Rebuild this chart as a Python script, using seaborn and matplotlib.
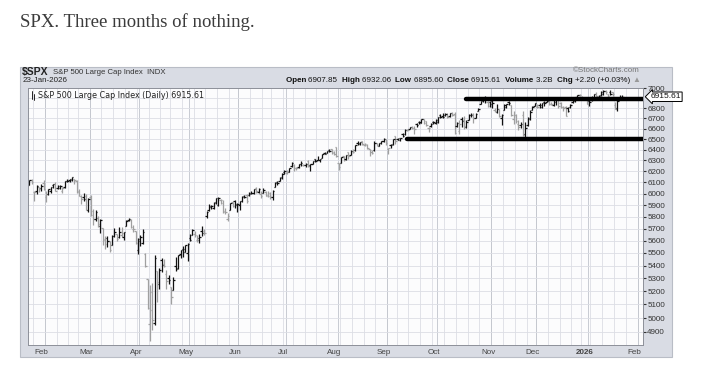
import numpy as np
import pandas as pd
import matplotlib
matplotlib.use("Agg")
import matplotlib.pyplot as plt
import matplotlib.patches as patches
import matplotlib.transforms as mtransforms
from matplotlib.ticker import FixedLocator, NullLocator
import seaborn as sns

# daily OHLC for $SPX, 23-Jan-2025 .. 23-Jan-2026
opens = [6076, 6121, 6014, 6026, 6058, 6051, 6096,
         5969, 5998, 6021, 6072, 6083, 6046, 6049, 6025, 6061, 6115, 6121, 6118, 6134, 6115, 6027, 5982, 5970, 5981, 5857,
         5969, 5812, 5782, 5787, 5726, 5706, 5604, 5624, 5594, 5563, 5635, 5655, 5632, 5646, 5630, 5719, 5775, 5771, 5696, 5679, 5527,
         5597, 5581, 5492, 5293, 4953, 5193, 4967, 5353, 5255, 5441, 5411, 5335, 5305, 5232, 5207, 5395, 5381, 5489, 5529, 5508, 5499,
         5626, 5645, 5656, 5606, 5621, 5680, 5676, 5806, 5854, 5891, 5871, 5929, 5903, 5945, 5915, 5842, 5781, 5855, 5926, 5939, 5903,
         5897, 5939, 5978, 5985, 5987, 6005, 6009, 6049, 6010, 5997, 6004, 6013, 5988, 6005, 5970, 6061, 6105, 6113, 6151, 6193,
         6187, 6193, 6246, 6259, 6232, 6240, 6263, 6256, 6255, 6296, 6253, 6265, 6311, 6304, 6306, 6326, 6368, 6370, 6397, 6409, 6377, 6428,
         6272, 6271, 6337, 6309, 6375, 6352, 6390, 6398, 6461, 6453, 6478, 6445, 6446, 6406, 6378, 6394, 6458, 6438, 6458, 6485, 6499,
         6409, 6445, 6457, 6528, 6500, 6507, 6546, 6546, 6590, 6597, 6620, 6605, 6641, 6661, 6658, 6695, 6671, 6606, 6621, 6661, 6657,
         6665, 6732, 6722, 6737, 6747, 6722, 6755, 6740, 6626, 6578, 6690, 6686, 6617, 6688, 6736, 6743, 6705, 6776, 6843, 6885, 6903, 6862, 6863,
         6872, 6786, 6766, 6790, 6701, 6787, 6813, 6867, 6834, 6690, 6733, 6645, 6631, 6730, 6548, 6636, 6697, 6781, 6823,
         6813, 6830, 6815, 6867, 6866, 6872, 6840, 6835, 6866, 6890, 6856, 6814, 6815, 6800, 6810, 6859, 6875, 6910, 6935, 6912, 6903, 6891,
         6875, 6886, 6903, 6947, 6915, 6930, 6940, 6975, 6940, 6960, 6960, 6835, 6800, 6900, 6908]
highs = [6119, 6128, 6027, 6074, 6062, 6087, 6121,
         6022, 6042, 6062, 6084, 6101, 6073, 6076, 6063, 6116, 6127, 6130, 6147, 6134, 6118, 6043, 5992, 6009, 5994, 5959,
         5987, 5866, 5861, 5803, 5783, 5706, 5636, 5642, 5598, 5646, 5704, 5659, 5716, 5711, 5671, 5775, 5786, 5784, 5732, 5680, 5623,
         5650, 5695, 5500, 5293, 5246, 5267, 5481, 5353, 5381, 5460, 5450, 5367, 5329, 5232, 5309, 5470, 5485, 5528, 5554, 5567, 5581,
         5658, 5700, 5684, 5649, 5653, 5720, 5693, 5847, 5906, 5903, 5925, 5958, 5968, 5954, 5940, 5878, 5829, 5922, 5931, 5944, 5922,
         5938, 5982, 5991, 5999, 6016, 6022, 6043, 6060, 6046, 6026, 6051, 6024, 6019, 6018, 6029, 6101, 6109, 6146, 6188, 6215,
         6210, 6227, 6284, 6263, 6243, 6265, 6290, 6270, 6272, 6303, 6265, 6298, 6315, 6336, 6316, 6360, 6381, 6390, 6402, 6410, 6390, 6428,
         6280, 6330, 6343, 6350, 6378, 6395, 6410, 6447, 6481, 6474, 6481, 6458, 6456, 6410, 6394, 6479, 6467, 6466, 6484, 6508, 6499,
         6417, 6455, 6503, 6533, 6511, 6513, 6555, 6592, 6601, 6616, 6627, 6624, 6656, 6671, 6695, 6698, 6673, 6619, 6650, 6674, 6689,
         6718, 6739, 6750, 6749, 6752, 6754, 6763, 6765, 6665, 6679, 6713, 6720, 6680, 6744, 6752, 6754, 6752, 6807, 6877, 6900, 6920, 6877, 6870,
         6887, 6804, 6839, 6794, 6739, 6842, 6847, 6870, 6834, 6775, 6747, 6683, 6663, 6771, 6662, 6716, 6780, 6824, 6849,
         6844, 6851, 6857, 6868, 6895, 6880, 6862, 6891, 6903, 6902, 6861, 6822, 6819, 6814, 6844, 6882, 6910, 6937, 6946, 6920, 6915, 6894,
         6894, 6920, 6946, 6966, 6935, 6978, 6986, 6985, 6945, 6980, 6967, 6860, 6890, 6935, 6932]
lows = [6075, 6088, 5932, 5994, 6012, 6021, 6031,
        5923, 5990, 6007, 6051, 6020, 6044, 6042, 6003, 6051, 6107, 6100, 6111, 6084, 6009, 5978, 5909, 5932, 5858, 5837,
        5810, 5733, 5762, 5711, 5667, 5566, 5529, 5546, 5505, 5563, 5631, 5598, 5622, 5632, 5603, 5719, 5764, 5703, 5671, 5572, 5489,
        5558, 5571, 5391, 5069, 4835, 4910, 4950, 5115, 5221, 5348, 5386, 5221, 5256, 5101, 5207, 5356, 5372, 5456, 5468, 5505, 5433,
        5597, 5645, 5629, 5592, 5582, 5640, 5646, 5786, 5845, 5869, 5866, 5907, 5896, 5912, 5830, 5825, 5768, 5855, 5886, 5872, 5843,
        5861, 5929, 5966, 5921, 5978, 5994, 6000, 6003, 6006, 5964, 6004, 5977, 5967, 5952, 5943, 6060, 6080, 6108, 6133, 6175,
        6178, 6189, 6241, 6201, 6215, 6228, 6251, 6245, 6237, 6243, 6201, 6264, 6285, 6303, 6282, 6318, 6360, 6364, 6375, 6360, 6347, 6332,
        6212, 6271, 6290, 6303, 6310, 6348, 6364, 6387, 6445, 6441, 6441, 6436, 6401, 6343, 6361, 6387, 6437, 6435, 6454, 6469, 6441,
        6360, 6416, 6445, 6454, 6488, 6483, 6522, 6539, 6575, 6596, 6598, 6551, 6619, 6644, 6656, 6643, 6630, 6570, 6612, 6646, 6648,
        6656, 6701, 6705, 6721, 6700, 6717, 6721, 6550, 6619, 6550, 6617, 6599, 6607, 6688, 6715, 6654, 6699, 6772, 6843, 6859, 6856, 6812, 6810,
        6800, 6767, 6753, 6713, 6631, 6787, 6805, 6832, 6724, 6646, 6650, 6585, 6604, 6528, 6521, 6630, 6679, 6780, 6823,
        6800, 6806, 6807, 6827, 6858, 6835, 6830, 6819, 6828, 6801, 6807, 6775, 6720, 6764, 6800, 6856, 6866, 6906, 6920, 6890, 6891, 6845,
        6825, 6870, 6895, 6910, 6890, 6925, 6935, 6940, 6890, 6930, 6925, 6790, 6775, 6890, 6896]
closes = [6119, 6101, 6012, 6068, 6039, 6071, 6041,
          5995, 6038, 6061, 6084, 6026, 6066, 6069, 6052, 6115, 6115, 6130, 6144, 6118, 6013, 5983, 5955, 5956, 5862, 5955,
          5850, 5778, 5843, 5739, 5770, 5615, 5572, 5599, 5522, 5639, 5675, 5615, 5675, 5663, 5668, 5768, 5777, 5712, 5693, 5581, 5612,
          5633, 5671, 5397, 5074, 5062, 4983, 5457, 5268, 5363, 5406, 5397, 5276, 5283, 5158, 5288, 5376, 5485, 5525, 5529, 5561, 5569,
          5604, 5687, 5650, 5607, 5631, 5664, 5660, 5844, 5887, 5893, 5917, 5958, 5964, 5940, 5845, 5842, 5803, 5922, 5889, 5912, 5912,
          5936, 5970, 5971, 5939, 6000, 6006, 6039, 6022, 6045, 5977, 6033, 5983, 5981, 5968, 6025, 6092, 6092, 6141, 6173, 6205,
          6198, 6227, 6279, 6230, 6226, 6263, 6280, 6260, 6269, 6244, 6264, 6297, 6297, 6306, 6310, 6359, 6363, 6389, 6390, 6371, 6363, 6339,
          6238, 6330, 6299, 6345, 6340, 6389, 6373, 6446, 6467, 6469, 6450, 6449, 6411, 6396, 6370, 6467, 6439, 6466, 6481, 6502, 6460,
          6416, 6448, 6502, 6482, 6495, 6513, 6532, 6587, 6584, 6615, 6607, 6600, 6632, 6664, 6694, 6657, 6638, 6605, 6644, 6661, 6688,
          6711, 6715, 6716, 6740, 6715, 6754, 6735, 6553, 6655, 6644, 6671, 6629, 6664, 6735, 6735, 6699, 6738, 6792, 6875, 6891, 6891, 6822, 6840,
          6852, 6772, 6796, 6720, 6729, 6832, 6847, 6851, 6737, 6734, 6672, 6617, 6642, 6539, 6603, 6705, 6766, 6813, 6849,
          6813, 6829, 6850, 6857, 6870, 6847, 6841, 6887, 6901, 6827, 6817, 6800, 6721, 6775, 6835, 6878, 6910, 6932, 6930, 6906, 6896, 6846,
          6858, 6902, 6945, 6921, 6921, 6966, 6977, 6964, 6927, 6944, 6940, 6797, 6876, 6913, 6915.61]

holidays = ["2025-02-17", "2025-04-18", "2025-05-26", "2025-06-19", "2025-07-04",
            "2025-09-01", "2025-11-27", "2025-12-25", "2026-01-01", "2026-01-19"]

y_levels = list(range(4900, 7001, 100))
last_close = 6915.61

# trend lines drawn on the chart (trading-day index, level)
resist_x = [185, 260]
resist_y = [6890, 6890]
support_x = [160, 260]
support_y = [6500, 6500]

month_names = ["Feb", "Mar", "Apr", "May", "Jun", "Jul", "Aug", "Sep", "Oct", "Nov", "Dec", "2026", "Feb"]

dates = pd.bdate_range("2025-01-23", "2026-01-23", freq="C", holidays=holidays)
n = min(len(dates), len(closes))
df = pd.DataFrame({"x": np.arange(n), "open": opens[:n], "high": highs[:n],
                   "low": lows[:n], "close": closes[:n]})
df["up"] = df["close"] >= df["close"].shift(1).fillna(df["open"])

sns.set_style("white")
plt.rcParams["font.family"] = ["Liberation Sans", "DejaVu Sans"]

fig = plt.figure(figsize=(7.02, 3.74), dpi=100)
W, H = 702, 374

def fx(px):
    return px / W

def fy(py):
    return 1 - py / H

# gray StockCharts panel
panel = patches.Rectangle((fx(20), fy(357)), fx(672) - fx(20), fy(67) - fy(357),
                          transform=fig.transFigure, facecolor="#d9dce4",
                          edgecolor="#b9bdc6", lw=0.8, zorder=0)
fig.add_artist(panel)

ax = fig.add_axes([fx(28), fy(345), fx(643) - fx(28), fy(87.5) - fy(345)])
ax.set_facecolor("#fcfcfd")
ax.set_yscale("log")
ax.set_ylim(4806, 7010)
ax.set_xlim(-0.6, 259.8)

# grid: weekly light, monthly darker, horizontal every 100
wk = [i for i in range(1, n) if dates[i].weekday() < dates[i - 1].weekday()]
wk += [n + 1, n + 6]
for i in wk:
    ax.axvline(i - 0.5, color="#dcdee5", lw=0.6, zorder=0)
month_idx = [i for i in range(1, n) if dates[i].month != dates[i - 1].month]
month_idx += [n + 6]
for i in month_idx:
    ax.axvline(i - 0.5, color="#c0c3cb", lw=0.6, zorder=0)
for lv in y_levels:
    ax.axhline(lv, color="#dcdee5", lw=0.6, zorder=0)

# OHLC bars
for up, sub in df.groupby("up"):
    c = "#111111" if up else "#a0a0a0"
    ax.vlines(sub["x"], sub["low"], sub["high"], color=c, lw=0.9, zorder=2)
    ax.hlines(sub["open"], sub["x"] - 0.6, sub["x"], color=c, lw=0.9, zorder=2)
    ax.hlines(sub["close"], sub["x"], sub["x"] + 0.6, color=c, lw=0.9, zorder=2)

# support / resistance
sns.lineplot(x=resist_x, y=resist_y, ax=ax, color="black", lw=3.2, zorder=3)
sns.lineplot(x=support_x, y=support_y, ax=ax, color="black", lw=3.2, zorder=3)

# axes / ticks
ax.yaxis.tick_right()
ax.yaxis.set_major_locator(FixedLocator([v for v in y_levels if v != 6900]))
ax.yaxis.set_minor_locator(NullLocator())
ax.set_yticklabels([str(v) for v in y_levels if v != 6900])
ax.tick_params(axis="y", labelsize=5.8, length=2, pad=1, colors="#333333")
ax.set_xticks([i - 1.8 for i in month_idx])
ax.set_xticklabels(month_names, fontsize=5.8, color="#444444")
ax.tick_params(axis="x", length=0, pad=3)
for lab in ax.get_xticklabels():
    if lab.get_text() == "2026":
        lab.set_fontweight("bold")
ax.set_xlabel("")
ax.set_ylabel("")
for s in ax.spines.values():
    s.set_color("#8d9099")
    s.set_linewidth(0.7)

trans = mtransforms.blended_transform_factory(ax.transAxes, ax.transData)
ax.text(1.012, last_close, f"{last_close:.2f}", transform=trans, ha="left", va="center",
        fontsize=6, color="#111111",
        bbox=dict(boxstyle="larrow,pad=0.15", fc="white", ec="black", lw=0.7), zorder=5)

# legend inside plot
ax.plot([0.006, 0.006], [0.985, 0.955], transform=ax.transAxes, color="black", lw=0.6)
ax.plot([0.010, 0.010], [0.975, 0.95], transform=ax.transAxes, color="black", lw=0.6)
ax.text(0.016, 0.967, f"S&P 500 Large Cap Index (Daily) {last_close:.2f}", transform=ax.transAxes,
        ha="left", va="center", fontsize=5.8, color="#222222", family=["DejaVu Sans"])

# header
fig.text(fx(22), fy(72), "$SPX", fontsize=7.5, fontweight="bold", va="center", ha="left", color="#222222")
fig.text(fx(53), fy(72), "S&P 500 Large Cap Index  INDX", fontsize=5.6, va="center", ha="left", color="#333333")
fig.text(fx(23), fy(80), "23-Jan-2026", fontsize=5.8, va="center", ha="left", color="#222222")
fig.text(fx(640), fy(71), "©StockCharts.com", fontsize=5.8, va="center", ha="right", color="#777777")

pieces = [("Open ", "bold"), ("6907.85  ", "normal"), ("High ", "bold"), ("6932.06  ", "normal"),
          ("Low ", "bold"), ("6895.60  ", "normal"), ("Close ", "bold"), ("6915.61  ", "normal"),
          ("Volume ", "bold"), ("3.2B  ", "normal"), ("Chg ", "bold"), ("+2.20 (+0.03%) ", "normal"),
          ("▲", "normal")]
renderer = fig.canvas.get_renderer()
xpos = 640
for txt, wt in reversed(pieces):
    col = "#999999" if txt == "▲" else "#111111"
    t = fig.text(fx(xpos), fy(80), txt, fontsize=5.8, fontweight=wt, va="center", ha="right",
                 color=col, family=["Liberation Sans", "DejaVu Sans"])
    bb = t.get_window_extent(renderer)
    xpos -= bb.width

# post title above the chart
fig.text(fx(20), fy(22), "SPX. Three months of nothing.", fontsize=13.5, family=["Liberation Serif"],
         color="#3b3b3b", va="center", ha="left")

fig.savefig("out.png", dpi=100)
